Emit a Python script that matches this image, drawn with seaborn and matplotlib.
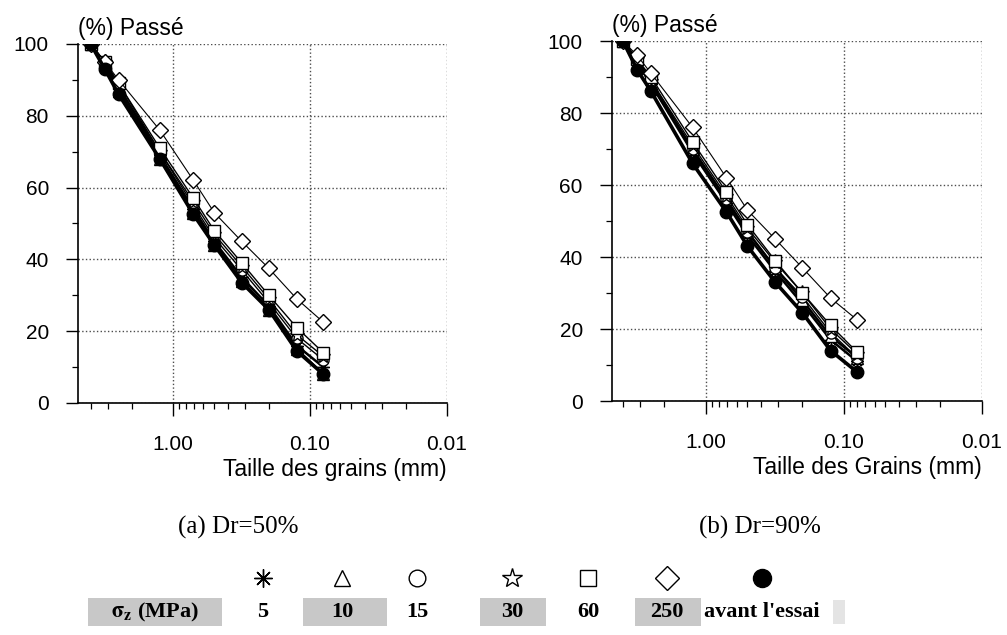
import numpy as np
import pandas as pd
import matplotlib
matplotlib.use("Agg")
import matplotlib.pyplot as plt
import seaborn as sns
from matplotlib.ticker import FixedLocator, FixedFormatter, LogLocator, NullFormatter, MultipleLocator
from matplotlib.patches import Rectangle

# ---------------- data ----------------
sizes_mm = [4.0, 3.15, 2.5, 1.25, 0.71, 0.5, 0.315, 0.2, 0.125, 0.08]
series_names = ["5", "10", "15", "30", "60", "250", "avant l'essai"]

# (a) Dr = 50 %
dr50_s5 = [100, 94, 88, 69, 54, 45, 35, 27, 16, 10]
dr50_s10 = [100, 94, 87, 68, 53, 44, 34, 26, 15, 8]
dr50_s15 = [100, 95, 88, 70, 55, 46, 37, 28, 18, 12]
dr50_s30 = [100, 95, 89, 70, 56, 47, 38, 29, 19, 13]
dr50_s60 = [100, 95, 89, 71, 57, 48, 39, 30, 21, 14]
dr50_s250 = [100, 95, 90, 76, 62, 53, 45, 37.5, 29, 22.5]
dr50_avant = [100, 93, 86, 68, 52.5, 44, 33.5, 26, 14.5, 8]

# (b) Dr = 90 %
dr90_s5 = [100, 94, 88, 69, 55, 46, 36, 27, 17, 11]
dr90_s10 = [100, 94, 88, 70, 56, 47, 37, 28, 18, 12]
dr90_s15 = [100, 95, 89, 70, 56, 47, 37, 29, 19, 12]
dr90_s30 = [100, 95, 89, 71, 57, 48, 38.5, 30, 20, 13]
dr90_s60 = [100, 95, 90, 72, 58, 49, 39, 30, 21, 13.5]
dr90_s250 = [100, 96, 91, 76, 62, 53, 45, 37, 28.6, 22.5]
dr90_avant = [100, 92, 86, 66, 52.5, 43, 33, 24.5, 14, 8]

panel_a = [dr50_s5, dr50_s10, dr50_s15, dr50_s30, dr50_s60, dr50_s250, dr50_avant]
panel_b = [dr90_s5, dr90_s10, dr90_s15, dr90_s30, dr90_s60, dr90_s250, dr90_avant]

x_tick_vals = [1.0, 0.1, 0.01]
x_tick_labels = ["1.00", "0.10", "0.01"]
y_tick_vals = [0, 20, 40, 60, 80, 100]

# ---------------- style ----------------
sns.set_theme(style="ticks")
plt.rcParams["font.family"] = ["Liberation Sans", "DejaVu Sans"]
plt.rcParams["mathtext.fontset"] = "stix"

styles = {
    "5": dict(marker=(8, 2, 0), ms=9, lw=1.8, mfc="white", z=3),
    "10": dict(marker="^", ms=8, lw=1.8, mfc="white", z=3),
    "15": dict(marker="o", ms=8, lw=1.0, mfc="white", z=3),
    "30": dict(marker="*", ms=11, lw=1.0, mfc="white", z=3),
    "60": dict(marker="s", ms=8, lw=1.0, mfc="white", z=3),
    "250": dict(marker="D", ms=8, lw=0.8, mfc="white", z=4),
    "avant l'essai": dict(marker="o", ms=9, lw=2.6, mfc="black", z=5),
}


def draw_panel(ax, values, xlim_left, xlabel):
    for name, vals in zip(series_names, values):
        st = styles[name]
        df = pd.DataFrame({"taille": sizes_mm, "passe": vals})
        sns.lineplot(data=df, x="taille", y="passe", ax=ax, color="black",
                     marker=st["marker"], markersize=st["ms"],
                     markerfacecolor=st["mfc"], markeredgecolor="black",
                     markeredgewidth=1.0, linewidth=st["lw"], zorder=st["z"],
                     sort=False, estimator=None)
    ax.set_xscale("log")
    ax.set_xlim(xlim_left, 0.01)
    ax.set_ylim(0, 100)
    ax.xaxis.set_major_locator(FixedLocator(x_tick_vals))
    ax.xaxis.set_major_formatter(FixedFormatter(x_tick_labels))
    ax.xaxis.set_minor_locator(LogLocator(base=10, subs=np.arange(2, 10)))
    ax.xaxis.set_minor_formatter(NullFormatter())
    ax.yaxis.set_major_locator(FixedLocator(y_tick_vals))
    ax.yaxis.set_minor_locator(MultipleLocator(10))
    ax.tick_params(axis="both", which="major", direction="out", length=9,
                   width=1.0, color="black", labelsize=15, labelcolor="black")
    ax.tick_params(axis="x", which="major", pad=14)
    ax.tick_params(axis="y", which="major", pad=12)
    ax.tick_params(axis="both", which="minor", direction="out", length=4,
                   width=0.9, color="black")
    ax.grid(True, which="major", linestyle=":", color="0.3", linewidth=1.0)
    ax.set_axisbelow(True)
    for s in ["top", "right"]:
        ax.spines[s].set_visible(False)
    for s in ["left", "bottom"]:
        ax.spines[s].set_color("black")
        ax.spines[s].set_linewidth(1.2)
    ax.set_facecolor("white")
    ax.set_xlabel(xlabel, fontsize=16.5, color="black", loc="right", labelpad=3)
    ax.set_ylabel("")
    ax.text(0.0, 1.01, "(%) Passé", transform=ax.transAxes, fontsize=16.5,
            ha="left", va="bottom", color="black")


fig = plt.figure(figsize=(10.07, 6.35), dpi=100)
fig.patch.set_facecolor("white")
ax1 = fig.add_axes([0.0775, 0.3654, 0.3664, 0.5654])
ax2 = fig.add_axes([0.6077, 0.3685, 0.3674, 0.5669])

draw_panel(ax1, panel_a, 4.94, "Taille des grains (mm)")
draw_panel(ax2, panel_b, 4.8, "Taille des Grains (mm)")

serif = ["Liberation Serif", "DejaVu Serif"]
fig.text(238 / 1007, 1 - 527 / 635, "(a) Dr=50%", ha="center", va="center",
         fontsize=18, family=serif, color="black")
fig.text(760 / 1007, 1 - 527 / 635, "(b) Dr=90%", ha="center", va="center",
         fontsize=18, family=serif, color="black")

# ---------------- legend (bottom strip) ----------------
lax = fig.add_axes([0, 0, 1, 1], zorder=-1)
lax.set_xlim(0, 1007)
lax.set_ylim(635, 0)
lax.axis("off")

grey = "#c8c8c8"
for (x0, w) in [(88, 134), (303, 84), (480, 66), (635, 66)]:
    lax.add_patch(Rectangle((x0, 598), w, 28, facecolor=grey, edgecolor="none"))
lax.add_patch(Rectangle((833, 600), 12, 24, facecolor="#e4e4e4", edgecolor="none"))

leg_x = [263, 342, 417, 512, 588, 667, 762]
for name, x in zip(series_names, leg_x):
    st = styles[name]
    lax.plot([x], [578], marker=st["marker"], ms=st["ms"] + 4,
             mfc=st["mfc"], mec="black", mew=1.0, ls="none")
    lax.text(x, 612, name, ha="center", va="center", fontsize=16,
             family=serif, weight="bold", color="black")
lax.text(155, 612, r"$\mathbf{\sigma}_\mathbf{z}$ (MPa)", ha="center", va="center",
         fontsize=16, family=serif, weight="bold", color="black")

fig.savefig("out.png", dpi=100, facecolor="white")
